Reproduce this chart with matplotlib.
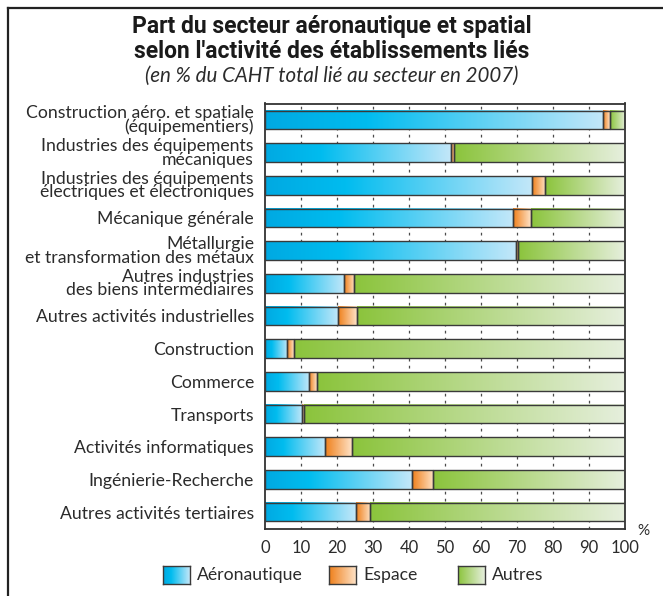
import numpy as np
import matplotlib
matplotlib.use("Agg")
import matplotlib.pyplot as plt
from matplotlib.colors import LinearSegmentedColormap
from matplotlib.lines import Line2D

categories = [
    "Construction aéro. et spatiale\n(équipementiers)",
    "Industries des équipements\nmécaniques",
    "Industries des équipements\nélectriques et électroniques",
    "Mécanique générale",
    "Métallurgie\net transformation des métaux",
    "Autres industries\ndes biens intermédiaires",
    "Autres activités industrielles",
    "Construction",
    "Commerce",
    "Transports",
    "Activités informatiques",
    "Ingénierie-Recherche",
    "Autres activités tertiaires",
]
aeronautique = [94.0, 51.6, 74.1, 69.0, 69.6, 22.0, 20.4, 6.2, 12.3, 10.4, 16.8, 40.7, 25.2]
espace = [1.7, 0.9, 3.7, 4.8, 0.8, 2.8, 5.2, 1.9, 2.2, 0.3, 7.5, 6.1, 4.0]
autres = [4.3, 47.5, 22.2, 26.2, 29.6, 75.2, 74.4, 91.9, 85.5, 89.3, 75.7, 53.2, 70.8]
series_names = ["Aéronautique", "Espace", "Autres"]
x_ticks = [0, 10, 20, 30, 40, 50, 60, 70, 80, 90, 100]

LABEL_FONT = ["Lato", "DejaVu Sans"]
TITLE_FONT = ["Roboto", "DejaVu Sans"]
EDGE = "#3a3a3a"
TEXT = "#2b2b2b"

cmaps = [
    LinearSegmentedColormap.from_list(
        "aero", [(0.0, "#00a9e2"), (0.3, "#00bcef"), (1.0, "#c3e7f9")]),
    LinearSegmentedColormap.from_list(
        "esp", [(0.0, "#ef7f1a"), (1.0, "#fee2c6")]),
    LinearSegmentedColormap.from_list(
        "aut", [(0.0, "#8bc43c"), (1.0, "#e6efdd")]),
]
grad = np.linspace(0, 1, 256).reshape(1, -1)

W, H = 663, 596
fig = plt.figure(figsize=(W / 100, H / 100), dpi=100)
fig.patch.set_facecolor("white")

ax = fig.add_axes([265 / W, 1 - 528.5 / H, 360 / W, (528.5 - 103.5) / H])
y = np.arange(len(categories))
bar_h = 0.57

left = np.zeros(len(categories))
for values, cmap in zip([aeronautique, espace, autres], cmaps):
    bars = ax.barh(y, values, left=left, height=bar_h, fill=False,
                   edgecolor=EDGE, linewidth=1.0, zorder=3)
    for p in bars:
        x0, w = p.get_x(), p.get_width()
        y0, h = p.get_y(), p.get_height()
        if w <= 0:
            continue
        ax.imshow(grad, cmap=cmap, aspect="auto", interpolation="bilinear",
                  extent=[x0, x0 + w, y0 + h, y0], zorder=2)
    left = left + np.asarray(values)

for xv in x_ticks[1:-1]:
    ax.axvline(xv, color="#4a4a4a", lw=0.9, linestyle=(0, (2.2, 3.4)), zorder=1)

ax.set_xlim(0, 100)
ax.set_ylim(len(categories) - 0.5, -0.5)
ax.set_aspect("auto")
ax.set_yticks(y)
ax.set_yticklabels(categories, fontfamily=LABEL_FONT, fontsize=12.7,
                   color=TEXT, linespacing=0.82, ha="right")
ax.set_xticks(x_ticks)
ax.set_xticklabels([str(v) for v in x_ticks], fontfamily=LABEL_FONT,
                   fontsize=12, color=TEXT)
ax.tick_params(axis="both", length=0)
ax.tick_params(axis="y", pad=8)
ax.tick_params(axis="x", pad=8)
for s in ax.spines.values():
    s.set_color("#333333")
    s.set_linewidth(1.3)

fig.text(643 / W, 1 - 531 / H, "%", fontfamily=LABEL_FONT, fontsize=11,
         color=TEXT, ha="center", va="center")

# Title block
fig.text(0.5, 1 - 27 / H, "Part du secteur aéronautique et spatial",
         fontfamily=TITLE_FONT, fontweight="bold", fontsize=16.5,
         color="#1a1a1a", ha="center", va="center")
fig.text(0.5, 1 - 51 / H, "selon l'activité des établissements liés",
         fontfamily=TITLE_FONT, fontweight="bold", fontsize=16.5,
         color="#1a1a1a", ha="center", va="center")
fig.text(0.5, 1 - 76 / H, "(en % du CAHT total lié au secteur en 2007)",
         fontfamily=LABEL_FONT, fontstyle="italic", fontsize=14.8,
         color=TEXT, ha="center", va="center")

# Legend with gradient swatches
swatch_x = [163, 329, 458]
for sx, name, cmap in zip(swatch_x, series_names, cmaps):
    sax = fig.add_axes([sx / W, 1 - 584 / H, 27 / W, 18 / H])
    sax.imshow(grad, cmap=cmap, aspect="auto", interpolation="bilinear")
    sax.set_xticks([])
    sax.set_yticks([])
    for s in sax.spines.values():
        s.set_color(EDGE)
        s.set_linewidth(1.0)
    fig.text((sx + 34) / W, 1 - 575 / H, name, fontfamily=LABEL_FONT,
             fontsize=12.7, color=TEXT, ha="left", va="center")

# Frame lines along the top and left edges
fig.add_artist(Line2D([8 / W, 1], [1 - 8 / H, 1 - 8 / H],
                      transform=fig.transFigure, color="#222222", lw=1.6))
fig.add_artist(Line2D([8 / W, 8 / W], [0, 1 - 8 / H],
                      transform=fig.transFigure, color="#222222", lw=1.6))

fig.savefig("out.png", dpi=100, facecolor="white")
